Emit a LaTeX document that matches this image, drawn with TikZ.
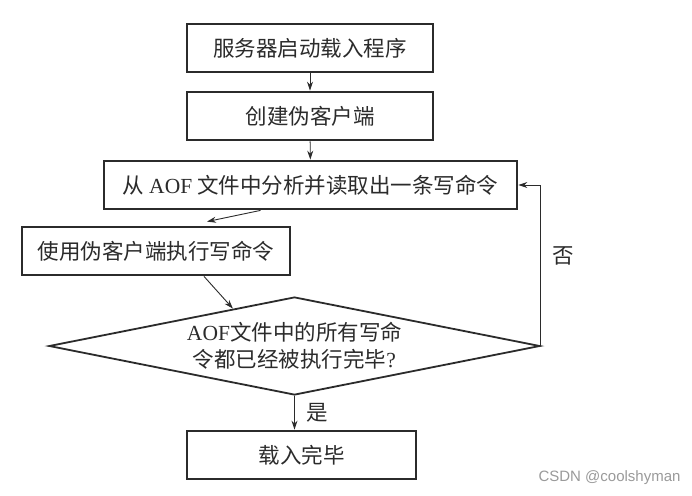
\documentclass[tikz,border=0pt]{standalone}
\usepackage{fontspec}
\usepackage{tikz}
\usetikzlibrary{arrows.meta, positioning, shapes.geometric, calc}
\newfontfamily\cjk{Noto Sans CJK SC}
\newfontfamily\lat{Liberation Serif}
\newfontfamily\marca{Liberation Sans}
\definecolor{tinta}{HTML}{2B2B2B}
\definecolor{marcagris}{HTML}{9A9A9A}
\tikzset{
  every picture/.style={font=\cjk\fontsize{21.5}{27}\selectfont, >=Stealth},
  paso/.style={draw=tinta, text=tinta, line width=2.8pt, minimum height=48pt, inner sep=0pt, align=center},
  rombo/.style={diamond, draw=tinta, text=tinta, line width=1.8pt, aspect=5,
                minimum width=491pt, minimum height=98pt, inner sep=0pt, align=center},
  flecha/.style={-{Stealth[length=9pt,width=6pt]}, line width=0.9pt, tinta},
}

\begin{document}
\begin{tikzpicture}[x=1pt, y=-1pt]
  \useasboundingbox[fill=white] (0,0) rectangle (692,495);
  \node[paso, minimum width=246pt] (carga) at (310,48) {服务器启动载入程序};
  \node[paso, minimum width=246pt] (cliente) at (310,116) {创建伪客户端};
  \node[paso, minimum width=413pt] (lee) at (310.5,185) {从 {\lat AOF} 文件中分析并读取出一条写命令};
  \node[paso, minimum width=268pt] (ejecuta) at (156,251) {使用伪客户端执行写命令};
  \node[rombo] (fin) at (294.5,346) {{\lat AOF}文件中的所有写命\\令都已经被执行完毕{\lat ?}};
  \node[paso, minimum width=229pt] (listo) at (301.5,455) {载入完毕};
  \node[font=\marca\fontsize{15}{18}\selectfont, text=marcagris] (firma) at (609.5,478) {CSDN @coolshyman};
  \draw[flecha] (carga) -- (cliente);
  \draw[flecha] (cliente) -- (lee);
  \draw[flecha] ([xshift=-50pt]lee.south) -- ([xshift=51pt, yshift=4pt]ejecuta.north);
  \draw[flecha] ([xshift=48pt]ejecuta.south) -- ($(fin.north)!0.25!(fin.west)$);
  \draw[flecha] (fin.east) |- node[pos=0.28, right=8pt, text=tinta] {否} (lee.east);
  \draw[flecha] (fin.south) -- (fin.south |- listo.north) node[midway, right=8pt, text=tinta] {是};
\end{tikzpicture}
\end{document}
